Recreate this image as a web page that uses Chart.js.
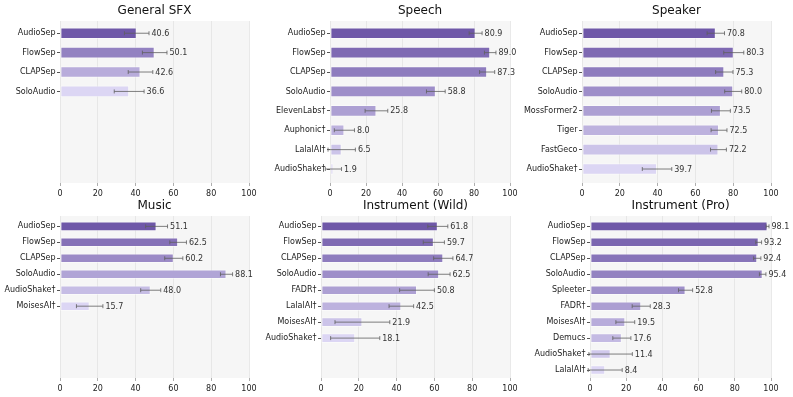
<!DOCTYPE html>
<html>
<head>
<meta charset="utf-8">
<script src="https://cdn.jsdelivr.net/npm/chart.js@4.4.1/dist/chart.umd.min.js"></script>
<style>
  body { margin: 0; background: #fff; width: 793px; height: 397px; overflow: hidden; position: relative; }
  .panel { position: absolute; }
</style>
</head>
<body>
<div class="panel" style="left:0px;top:0px;width:265px;height:200px"><canvas id="c0"></canvas></div>
<div class="panel" style="left:258px;top:0px;width:270px;height:200px"><canvas id="c1"></canvas></div>
<div class="panel" style="left:516px;top:0px;width:277px;height:200px"><canvas id="c2"></canvas></div>
<div class="panel" style="left:0px;top:195px;width:265px;height:200px"><canvas id="c3"></canvas></div>
<div class="panel" style="left:258px;top:195px;width:270px;height:200px"><canvas id="c4"></canvas></div>
<div class="panel" style="left:516px;top:195px;width:277px;height:200px"><canvas id="c5"></canvas></div>
<script>
// data
const sfxLabels = ['AudioSep', 'FlowSep', 'CLAPSep', 'SoloAudio'];
const sfxScores = [40.6, 50.1, 42.6, 36.6];
const sfxErrors = [6.5, 6.5, 6.5, 7.9];

const speechLabels = ['AudioSep', 'FlowSep', 'CLAPSep', 'SoloAudio', 'ElevenLabs†', 'Auphonic†', 'LalalAI†', 'AudioShake†'];
const speechScores = [80.9, 89.0, 87.3, 58.8, 25.8, 8.0, 6.5, 1.9];
const speechErrors = [3.6, 3.2, 4.2, 5.2, 6.3, 5.6, 7.6, 4.5];

const speakerLabels = ['AudioSep', 'FlowSep', 'CLAPSep', 'SoloAudio', 'MossFormer2', 'Tiger', 'FastGeco', 'AudioShake†'];
const speakerScores = [70.8, 80.3, 75.3, 80.0, 73.5, 72.5, 72.2, 39.7];
const speakerErrors = [4.6, 5.3, 4.6, 4.5, 5.0, 4.2, 4.2, 7.8];

const musicLabels = ['AudioSep', 'FlowSep', 'CLAPSep', 'SoloAudio', 'AudioShake†', 'MoisesAI†'];
const musicScores = [51.1, 62.5, 60.2, 88.1, 48.0, 15.7];
const musicErrors = [5.8, 4.4, 4.8, 3.2, 5.3, 7.0];

const wildLabels = ['AudioSep', 'FlowSep', 'CLAPSep', 'SoloAudio', 'FADR†', 'LalalAI†', 'MoisesAI†', 'AudioShake†'];
const wildScores = [61.8, 59.7, 64.7, 62.5, 50.8, 42.5, 21.9, 18.1];
const wildErrors = [5.3, 5.6, 5.1, 5.8, 9.2, 6.5, 14.5, 13.0];

const proLabels = ['AudioSep', 'FlowSep', 'CLAPSep', 'SoloAudio', 'Spleeter', 'FADR†', 'MoisesAI†', 'Demucs', 'AudioShake†', 'LalalAI†'];
const proScores = [98.1, 93.2, 92.4, 95.4, 52.8, 28.3, 19.5, 17.6, 11.4, 8.4];
const proErrors = [0.8, 1.6, 2.0, 1.8, 3.9, 5.0, 5.2, 5.0, 12.0, 9.4];

const xTicks = [0, 20, 40, 60, 80, 100];

const FONT = "'DejaVu Sans', sans-serif";

// dark -> light purple, spread over however many bars a panel has
function purples(n) {
    const a = [111, 88, 168], b = [220, 214, 244];
    const out = [];
    for (let i = 0; i < n; i++) {
        const t = n > 1 ? i / (n - 1) : 0;
        out.push('rgb(' + a.map((c, k) => Math.round(c + (b[k] - c) * t)).join(',') + ')');
    }
    return out;
}

const plotBg = {
    id: 'plotBg',
    beforeDraw(chart) {
        const { ctx, chartArea: a } = chart;
        ctx.save();
        ctx.fillStyle = '#f6f6f6';
        ctx.fillRect(a.left, a.top, a.right - a.left, a.bottom - a.top);
        ctx.restore();
    }
};

const errorBars = {
    id: 'errorBars',
    afterDatasetsDraw(chart) {
        const { ctx } = chart;
        const x = chart.scales.x;
        const ds = chart.data.datasets[0];
        const meta = chart.getDatasetMeta(0);
        ctx.save();
        meta.data.forEach((bar, i) => {
            const v = ds.data[i].x, e = ds.errors[i];
            const x0 = x.getPixelForValue(v - e), x1 = x.getPixelForValue(v + e);
            const y = bar.y;
            ctx.strokeStyle = 'rgba(95,95,95,0.8)';
            ctx.lineWidth = 1;
            ctx.beginPath();
            ctx.moveTo(x0, y); ctx.lineTo(x1, y);
            ctx.moveTo(x0, y - 2); ctx.lineTo(x0, y + 2);
            ctx.moveTo(x1, y - 2); ctx.lineTo(x1, y + 2);
            ctx.stroke();
            ctx.fillStyle = '#333';
            ctx.font = '8px ' + FONT;
            ctx.textBaseline = 'middle';
            ctx.textAlign = 'left';
            ctx.fillText(v.toFixed(1), Math.max(x1, bar.x) + 2.5, y + 0.5);
        });
        ctx.restore();
    }
};

function makePanel(id, title, labels, scores, errors, o) {
    const ctx = document.getElementById(id).getContext('2d');
    new Chart(ctx, {
        type: 'bar',
        data: {
            datasets: [{
                data: scores.map((s, i) => ({ x: s, y: i })),
                errors: errors,
                backgroundColor: purples(labels.length),
                borderColor: 'rgba(255,255,255,0.45)',
                borderWidth: 1,
                borderSkipped: false,
                barPercentage: 0.6,
                categoryPercentage: 1
            }]
        },
        options: {
            indexAxis: 'y',
            responsive: true,
            maintainAspectRatio: false,
            animation: false,
            layout: { padding: { left: 0, right: o.right, top: 0, bottom: 0 } },
            scales: {
                x: {
                    type: 'linear',
                    min: 0, max: 100,
                    afterBuildTicks: ax => { ax.ticks = xTicks.map(v => ({ value: v })); },
                    afterFit: ax => { ax.height = 17; },
                    grid: { color: '#e3e3e3', lineWidth: 0.8, tickLength: 3, tickColor: '#999' },
                    border: { display: false },
                    ticks: { font: { family: FONT, size: 8 }, color: '#222', padding: 3, maxRotation: 0 }
                },
                y: {
                    type: 'linear',
                    reverse: true,
                    offset: false,
                    min: o.ymin, max: o.ymax,
                    afterBuildTicks: ax => {
                        ax.ticks = labels.map((l, i) => ({ value: i }));
                    },
                    afterFit: ax => { ax.width = o.axisW; },
                    grid: { offset: false, drawOnChartArea: false, drawTicks: true, tickLength: 3, tickColor: '#555' },
                    border: { display: false },
                    ticks: {
                        autoSkip: false,
                        font: { family: FONT, size: 8 },
                        color: '#222',
                        padding: 1.5,
                        callback: v => labels[v] || ''
                    }
                }
            },
            plugins: {
                legend: { display: false },
                tooltip: { enabled: false },
                title: {
                    display: true,
                    text: title,
                    fullSize: false,
                    color: '#111',
                    font: { family: FONT, size: 12, weight: 'normal' },
                    padding: { top: 3.5, bottom: 3.1 }
                }
            }
        },
        plugins: [plotBg, errorBars]
    });
}

const TOP = { ymin: -0.63, ymax: 7.72 };
const BOT = { ymin: -0.65, ymax: 9.5 };

makePanel('c0', 'General SFX', sfxLabels, sfxScores, sfxErrors, { ...TOP, axisW: 60, right: 16 });
makePanel('c1', 'Speech', speechLabels, speechScores, speechErrors, { ...TOP, axisW: 72, right: 18 });
makePanel('c2', 'Speaker', speakerLabels, speakerScores, speakerErrors, { ...TOP, axisW: 66, right: 22 });
makePanel('c3', 'Music', musicLabels, musicScores, musicErrors, { ...BOT, axisW: 60, right: 16 });
makePanel('c4', 'Instrument (Wild)', wildLabels, wildScores, wildErrors, { ...BOT, axisW: 63, right: 18 });
makePanel('c5', 'Instrument (Pro)', proLabels, proScores, proErrors, { ...BOT, axisW: 74, right: 22 });
</script>
</body>
</html>
